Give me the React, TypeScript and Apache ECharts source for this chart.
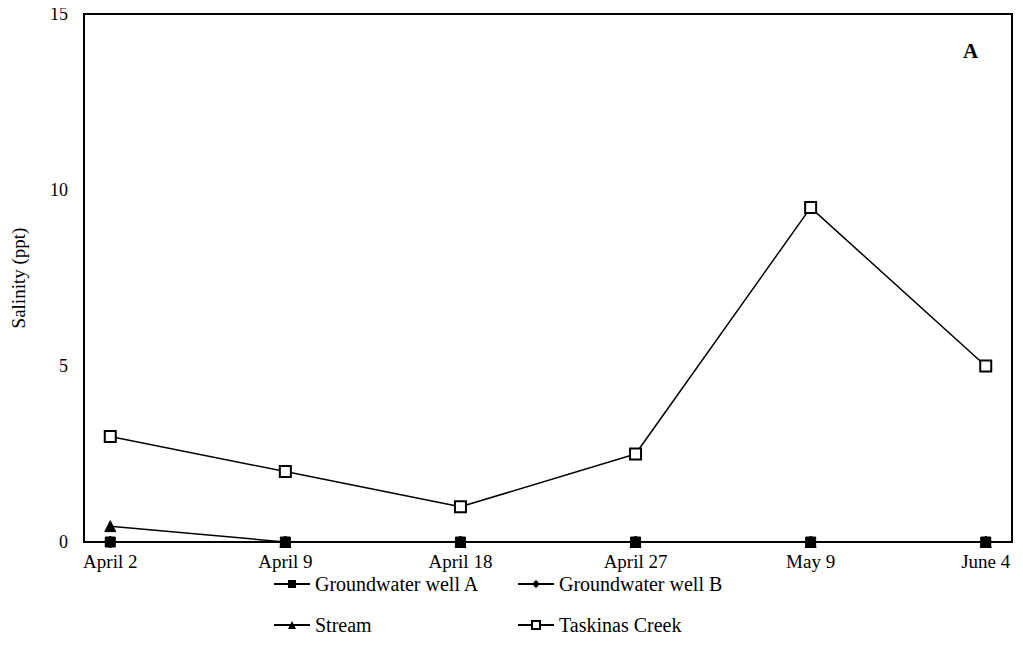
import React, { useEffect, useRef } from "react";
import * as echarts from "echarts";

const dates = ["April 2", "April 9", "April 18", "April 27", "May 9", "June 4"];
const wellA = [0, 0, 0, 0, 0, 0];
const wellB = [0, 0, 0, 0, 0, 0];
const stream = [0.45, 0, 0, 0, 0, 0];
const taskinas = [3.0, 2.0, 1.0, 2.5, 9.5, 5.0];
const yTicks = [0, 5, 10, 15];

const FONT = "Liberation Serif";

export default function App() {
  const ref = useRef<HTMLDivElement>(null);

  useEffect(() => {
    if (!ref.current) return;
    const chart = echarts.init(ref.current, null, { renderer: "svg" });
    const pts = (vals: number[]) => vals.map((v, i) => [i, v]);
    const base = {
      type: "line",
      lineStyle: { color: "#000", width: 1.5 },
      itemStyle: { color: "#000", borderColor: "#000" },
      symbolSize: 10,
    };
    const legendBase = {
      itemWidth: 36,
      itemHeight: 10,
      itemGap: 8,
      padding: 0,
      textStyle: { fontFamily: FONT, fontSize: 20, color: "#000" },
      selectedMode: false,
    };
    chart.setOption({
      animation: false,
      backgroundColor: "#fff",
      grid: {
        left: 84,
        right: 11,
        top: 14,
        bottom: 128,
        show: true,
        borderColor: "#000",
        borderWidth: 2,
      },
      xAxis: {
        type: "value",
        min: -0.15,
        max: 5.15,
        axisLine: { show: true, onZero: false, lineStyle: { color: "#000", width: 2 } },
        axisTick: { show: false },
        splitLine: { show: false },
        axisLabel: {
          customValues: dates.map((_, i) => i),
          formatter: (v: number) => dates[Math.round(v)] ?? "",
          fontFamily: FONT,
          fontSize: 19,
          color: "#000",
          margin: 10,
          showMinLabel: true,
          showMaxLabel: true,
        },
      },
      yAxis: {
        type: "value",
        min: 0,
        max: 15,
        interval: 5,
        name: "Salinity (ppt)",
        nameLocation: "middle",
        nameGap: 56,
        nameTextStyle: { fontFamily: FONT, fontSize: 19, color: "#000" },
        axisLine: { show: true, onZero: false, lineStyle: { color: "#000", width: 2 } },
        axisTick: { show: false },
        splitLine: { show: false },
        axisLabel: {
          customValues: yTicks,
          fontFamily: FONT,
          fontSize: 18,
          color: "#000",
          margin: 16,
        },
      },
      legend: [
        { ...legendBase, left: 273, top: 574, data: ["Groundwater well A"] },
        { ...legendBase, left: 517, top: 574, data: ["Groundwater well B"] },
        { ...legendBase, left: 273, top: 615, data: ["Stream"] },
        { ...legendBase, left: 517, top: 615, data: ["Taskinas Creek"] },
      ],
      graphic: [
        {
          type: "text",
          left: 963,
          top: 40,
          style: {
            text: "A",
            font: `bold 21px "${FONT}"`,
            fill: "#000",
          },
        },
      ],
      series: [
        {
          ...base,
          name: "Taskinas Creek",
          data: pts(taskinas),
          symbol: "rect",
          symbolSize: 11,
          itemStyle: { color: "#fff", borderColor: "#000", borderWidth: 2 },
          z: 5,
        },
        {
          ...base,
          name: "Stream",
          data: pts(stream),
          symbol: "triangle",
          symbolSize: 11,
        },
        {
          ...base,
          name: "Groundwater well B",
          data: pts(wellB),
          symbol: "diamond",
          symbolSize: 12,
        },
        {
          ...base,
          name: "Groundwater well A",
          data: pts(wellA),
          symbol: "rect",
          symbolSize: 10,
        },
      ],
    });
    return () => chart.dispose();
  }, []);

  return <div ref={ref} style={{ width: 1023, height: 670, margin: -8 }} />;
}
